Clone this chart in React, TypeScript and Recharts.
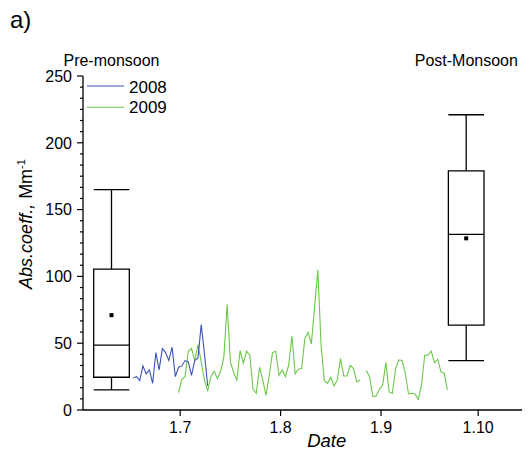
import React from "react";
import {
  ComposedChart,
  Line,
  XAxis,
  YAxis,
  ReferenceArea,
  ReferenceLine,
  Scatter,
} from "recharts";

// ---- data ----
// x values are days counted from 1 July (daily means plotted at mid-day)
const xTickDays = [0, 31, 62, 92];
const xTickLabels = ["1.7", "1.8", "1.9", "1.10"];
const yMajorTicks = [0, 50, 100, 150, 200, 250];

const start2008 = -14.5;
const abs2008 = [24, 25, 22, 33, 27, 30, 20, 43, 30, 46, 43, 37, 47, 25, 32, 33, 37, 36, 26, 37, 39, 64, 42, 18];

const start2009a = -0.5;
const abs2009a = [
  13, 23, 25, 44, 46, 37, 49, 36, 22, 14.5, 25, 29, 23.5, 29, 40, 79, 36, 28, 22.5, 44.5, 35, 44, 41, 15.5,
  12.5, 32, 22.5, 11, 26, 43, 44, 26, 30, 25, 33.5, 55.5, 27, 30.5, 31, 53.5, 58, 49.5, 77, 105, 48.5, 22, 20,
  24.5, 18, 22.5, 38.5, 25.5, 25.5, 33.5, 31, 21, 22.5,
];
const start2009b = 57.5;
const abs2009b = [
  29.5, 24.5, 10, 10.5, 15.5, 18.5, 35.5, 13.5, 12.5, 31, 37.5, 37, 27.5, 12, 12.5, 12, 8, 18.5, 41, 41, 44,
  35.5, 38, 28.5, 27.5, 15,
];

// box plots: [Pre-monsoon, Post-Monsoon]
const boxNames = ["Pre-monsoon", "Post-Monsoon"];
const boxCenters = [-21.2, 88.3];
const boxHalfWidth = 5.5;
const boxLowWhisker = [15, 37];
const boxQ1 = [24.5, 63.5];
const boxMedian = [48.5, 131.5];
const boxMean = [71, 128.5];
const boxQ3 = [105.5, 179];
const boxHighWhisker = [165, 221];

// ---- derived tables ----
const data2008 = abs2008.map((v, i) => ({ x: start2008 + i, y: v }));
const data2009 = [
  ...abs2009a.map((v, i) => ({ x: start2009a + i, y: v as number | null })),
  { x: (start2009a + abs2009a.length + start2009b - 1) / 2, y: null },
  ...abs2009b.map((v, i) => ({ x: start2009b + i, y: v as number | null })),
];
const meanData = boxCenters.map((c, i) => ({ x: c, y: boxMean[i] }));
const yAllTicks = Array.from({ length: 31 }, (_, k) => (k * 50) / 6);

const BLUE = "#3d52b4";
const GREEN = "#6cc84a";
const FONT = "'Liberation Sans', Arial, sans-serif";

const YTick = (props: any) => {
  const { x, y, payload } = props;
  const ax = x + 8;
  const v = payload.value as number;
  const major = yMajorTicks.some((m) => Math.abs(m - v) < 1e-6);
  return (
    <g>
      <line x1={ax - (major ? 6 : 3)} x2={ax} y1={y} y2={y} stroke="#000" strokeWidth={1.2} />
      {major && (
        <text x={ax - 11} y={y} dy="0.36em" textAnchor="end" fontSize={16} fill="#000" fontFamily={FONT}>
          {Math.round(v)}
        </text>
      )}
    </g>
  );
};

const MeanMark = (props: any) => {
  const { cx, cy } = props;
  return <rect x={cx - 2} y={cy - 2} width={4} height={4} fill="#000" />;
};

export default function App() {
  const W = 522;
  const H = 444;
  return (
    <div style={{ position: "relative", width: W, height: H, fontFamily: FONT }}>
      <ComposedChart width={W} height={H} margin={{ top: 68, right: 0, bottom: 0, left: 0 }}>
        <XAxis
          type="number"
          dataKey="x"
          domain={[-30, 108]}
          allowDataOverflow
          ticks={xTickDays}
          interval={0}
          tickFormatter={(v: number) => xTickLabels[xTickDays.indexOf(v)] ?? ""}
          height={42}
          tickSize={6}
          tickMargin={6}
          axisLine={{ stroke: "#000", strokeWidth: 1.3 }}
          tickLine={{ stroke: "#000", strokeWidth: 1.2 }}
          tick={{ fill: "#000", fontSize: 16 }}
        />
        <YAxis
          type="number"
          domain={[0, 250]}
          allowDataOverflow
          ticks={yAllTicks}
          interval={0}
          width={75}
          tickSize={6}
          tickMargin={2}
          tickLine={false}
          axisLine={{ stroke: "#000", strokeWidth: 1.3 }}
          tick={<YTick />}
        />
        {boxCenters.map((c, i) => (
          <ReferenceArea
            key={"box" + i}
            x1={c - boxHalfWidth}
            x2={c + boxHalfWidth}
            y1={boxQ1[i]}
            y2={boxQ3[i]}
            fill="none"
            stroke="#000"
            strokeWidth={1.3}
          />
        ))}
        {boxCenters.map((c, i) => (
          <ReferenceLine
            key={"med" + i}
            segment={[
              { x: c - boxHalfWidth, y: boxMedian[i] },
              { x: c + boxHalfWidth, y: boxMedian[i] },
            ]}
            stroke="#000"
            strokeWidth={1.3}
          />
        ))}
        {boxCenters.map((c, i) => (
          <ReferenceLine
            key={"wl" + i}
            segment={[
              { x: c, y: boxLowWhisker[i] },
              { x: c, y: boxQ1[i] },
            ]}
            stroke="#000"
            strokeWidth={1.3}
          />
        ))}
        {boxCenters.map((c, i) => (
          <ReferenceLine
            key={"wh" + i}
            segment={[
              { x: c, y: boxQ3[i] },
              { x: c, y: boxHighWhisker[i] },
            ]}
            stroke="#000"
            strokeWidth={1.3}
          />
        ))}
        {boxCenters.map((c, i) => (
          <ReferenceLine
            key={"cl" + i}
            segment={[
              { x: c - boxHalfWidth, y: boxLowWhisker[i] },
              { x: c + boxHalfWidth, y: boxLowWhisker[i] },
            ]}
            stroke="#000"
            strokeWidth={1.3}
          />
        ))}
        {boxCenters.map((c, i) => (
          <ReferenceLine
            key={"ch" + i}
            segment={[
              { x: c - boxHalfWidth, y: boxHighWhisker[i] },
              { x: c + boxHalfWidth, y: boxHighWhisker[i] },
            ]}
            stroke="#000"
            strokeWidth={1.3}
          />
        ))}
        <Line
          data={data2009}
          dataKey="y"
          name="2009"
          stroke={GREEN}
          strokeWidth={1.1}
          dot={false}
          activeDot={false}
          connectNulls={false}
          isAnimationActive={false}
        />
        <Line
          data={data2008}
          dataKey="y"
          name="2008"
          stroke={BLUE}
          strokeWidth={1.1}
          dot={false}
          activeDot={false}
          isAnimationActive={false}
        />
        <Scatter data={meanData} dataKey="y" shape={<MeanMark />} isAnimationActive={false} />
      </ComposedChart>
      {/* overlay in page coordinates (covers the body margin too) */}
      <svg
        width={530}
        height={452}
        style={{ position: "absolute", left: -8, top: -8, pointerEvents: "none" }}
        fontFamily={FONT}
      >
        <text x={10} y={28} fontSize={24} fill="#000">
          a)
        </text>
        <text x={111.5} y={66} fontSize={16} textAnchor="middle" fill="#000">
          {boxNames[0]}
        </text>
        <text x={466.3} y={66} fontSize={16} textAnchor="middle" fill="#000">
          {boxNames[1]}
        </text>
        <line x1={87} x2={124} y1={86} y2={86} stroke={BLUE} strokeWidth={1.1} />
        <text x={129} y={92.5} fontSize={17} fill="#000">
          2008
        </text>
        <line x1={87} x2={124} y1={107.3} y2={107.3} stroke={GREEN} strokeWidth={1.1} />
        <text x={129} y={112.7} fontSize={17} fill="#000">
          2009
        </text>
        <text transform="translate(31.7,224) rotate(-90)" textAnchor="middle" fontSize={18} fill="#000">
          <tspan fontStyle="italic">Abs.coeff.,</tspan>
          <tspan> Mm</tspan>
          <tspan dy={-7} fontSize={11}>
            -1
          </tspan>
        </text>
        <text x={326.7} y={447} fontSize={18.5} fontStyle="italic" textAnchor="middle" fill="#000">
          Date
        </text>
      </svg>
    </div>
  );
}
